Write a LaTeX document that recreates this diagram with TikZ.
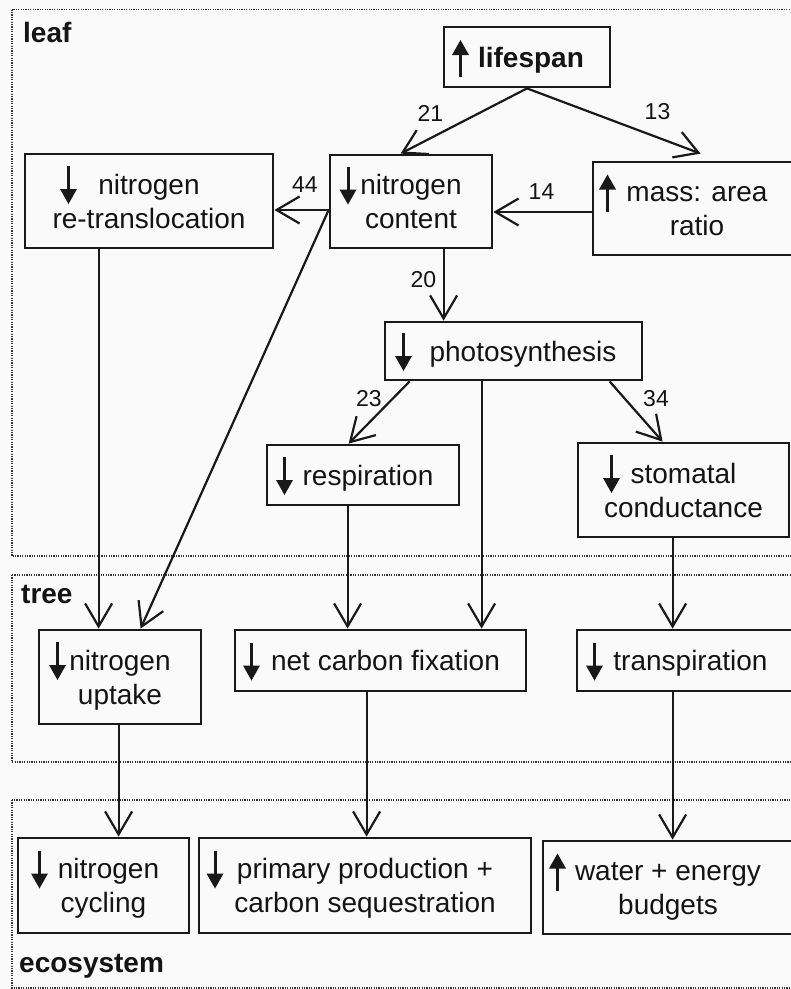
\documentclass[tikz,border=0pt]{standalone}
\usepackage{fontspec}
\setmainfont{Liberation Sans}
\usetikzlibrary{arrows.meta,calc}
\newcommand\hiS{\rule{0pt}{26pt}}
\newcommand\loS{\rule[-6pt]{0pt}{6pt}}
\begin{document}
\begin{tikzpicture}[x=1pt,y=-1pt,
  region/.style={draw=black!80, line width=1.6pt, dash pattern=on 1.2pt off 1.2pt},
  regionlabel/.style={font=\fontsize{28pt}{34pt}\selectfont\bfseries, anchor=base west, inner sep=0pt, text=black!92},
  box/.style={draw=black!90, line width=2.8pt, inner sep=0pt, align=center, font=\fontsize{28pt}{34pt}\selectfont, text=black!92},
  one/.style={text height=20pt, text depth=0pt},
  conn/.style={draw=black!90, line width=2.2pt, -{Straight Barb[length=23pt,width=27pt,line width=2.2pt]}},
  num/.style={font=\fontsize{23pt}{23pt}\selectfont, inner sep=0pt, text=black!92},
  dnglyph/.pic={\draw[black!90, line width=3pt] (0,-28) -- (0,-4); \fill[black!90] (-8.5,-5) -- (8.5,-5) -- (0,10) -- cycle;},
  upglyph/.pic={\draw[black!90, line width=3pt] (0,10) -- (0,-13); \fill[black!90] (-8.5,-12) -- (8.5,-12) -- (0,-27) -- cycle;}
]
\useasboundingbox (0,0) rectangle (791,989);
\clip (0,0) rectangle (791,989);
\fill[black!2] (0,0) rectangle (791,989);

% regions
\draw[region] (12,9.5) rectangle (830,556);
\draw[region] (12,575) rectangle (830,762);
\draw[region] (12,800) rectangle (830,988);
\node[regionlabel] (lleaf) at (23,42) {leaf};
\node[regionlabel] (ltree) at (21,603) {tree};
\node[regionlabel] (leco) at (19,972) {ecosystem};

% boxes
\node[box, one, minimum width=166pt, minimum height=60pt] (life) at (527,57) {\hspace*{8pt}\textbf{lifespan}};
\node[box, minimum width=162pt, minimum height=93pt] (ncont) at (411,201.5) {\hiS nitrogen\\content\loS};
\node[box, minimum width=248pt, minimum height=94pt] (retr) at (149,201) {\hiS nitrogen\\re-translocation\loS};
\node[box, minimum width=208pt, minimum height=93pt] (mass) at (697,208.5) {\hiS mass: area\\ratio\loS};
\node[box, one, minimum width=257pt, minimum height=58pt] (photo) at (513.5,351) {\hspace*{19pt}photosynthesis};
\node[box, one, minimum width=192pt, minimum height=60pt] (resp) at (363,475) {\hspace*{10pt}respiration};
\node[box, minimum width=211pt, minimum height=94pt] (stom) at (683.5,490) {\hiS stomatal\\conductance\loS};
\node[box, minimum width=162pt, minimum height=94pt] (nupt) at (120,677) {\hiS nitrogen\\uptake\loS};
\node[box, one, minimum width=291pt, minimum height=61pt] (netc) at (380.5,660.5) {\hspace*{10pt}net carbon fixation};
\node[box, one, minimum width=220pt, minimum height=61pt] (transp) at (687,660.5) {\hspace*{7pt}transpiration};
\node[box, minimum width=171pt, minimum height=95pt] (ncyc) at (103.5,885.5) {\hiS\hspace*{10pt}nitrogen\\cycling\loS};
\node[box, minimum width=332pt, minimum height=95pt] (prim) at (365,885.5) {\hiS primary production +\\carbon sequestration\loS};
\node[box, minimum width=250pt, minimum height=93pt] (water) at (668,887.5) {\hiS water + energy\\budgets\loS};

% increase / decrease glyphs
\pic at (460.5,67) {upglyph};
\pic at (68.5,194) {dnglyph};
\pic at (348,194.5) {dnglyph};
\pic at (607.5,201.5) {upglyph};
\pic at (403.5,361) {dnglyph};
\pic at (284.5,485) {dnglyph};
\pic at (611.5,483) {dnglyph};
\pic at (57.5,670) {dnglyph};
\pic at (251.5,670.5) {dnglyph};
\pic at (594.5,670.5) {dnglyph};
\pic at (39.5,878.5) {dnglyph};
\pic at (215,878.5) {dnglyph};
\pic at (557.5,880.5) {upglyph};

% connectors
\draw[conn] (life.south) -- ($(ncont.north west)+(72,0)$);
\draw[conn] (life.south) -- ($(mass.north west)+(109,-7)$);
\draw[conn] ($(mass.west)+(0,3.5)$) coordinate (m1) -- (ncont.east |- m1);
\draw[conn] ($(ncont.west)+(0,8.5)$) coordinate (nc1) -- (retr.east |- nc1);
\draw[conn] (nc1) -- ($(nupt.north west)+(103,0)$);
\draw[conn] ($(ncont.south west)+(115,0)$) coordinate (nc2) -- (photo.north -| nc2);
\draw[conn] ($(retr.south west)+(75,0)$) coordinate (r1) -- (nupt.north -| r1);
\draw[conn] ($(photo.south west)+(26,0)$) -- ($(resp.north west)+(83,0)$);
\draw[conn] ($(photo.south west)+(98,0)$) coordinate (p1) -- (netc.north -| p1);
\draw[conn] ($(photo.south west)+(226,0)$) -- ($(stom.north west)+(86,0)$);
\draw[conn] ($(resp.south west)+(82,0)$) coordinate (r2) -- (netc.north -| r2);
\draw[conn] ($(stom.south west)+(96,0)$) coordinate (s1) -- (transp.north -| s1);
\draw[conn] ($(nupt.south west)+(81,0)$) coordinate (u1) -- (ncyc.north -| u1);
\draw[conn] ($(netc.south west)+(133,0)$) coordinate (c1) -- (prim.north -| c1);
\draw[conn] ($(transp.south west)+(97,0)$) coordinate (t1) -- (water.north -| t1);

% numbers
\node[num] (n21) at (430.5,113.5) {21};
\node[num] (n13) at (657.5,111.5) {13};
\node[num] (n14) at (541.5,191.5) {14};
\node[num] (n44) at (305,185) {44};
\node[num] (n20) at (423.5,280) {20};
\node[num] (n23) at (369,399) {23};
\node[num] (n34) at (656,398.5) {34};
\end{tikzpicture}
\end{document}
